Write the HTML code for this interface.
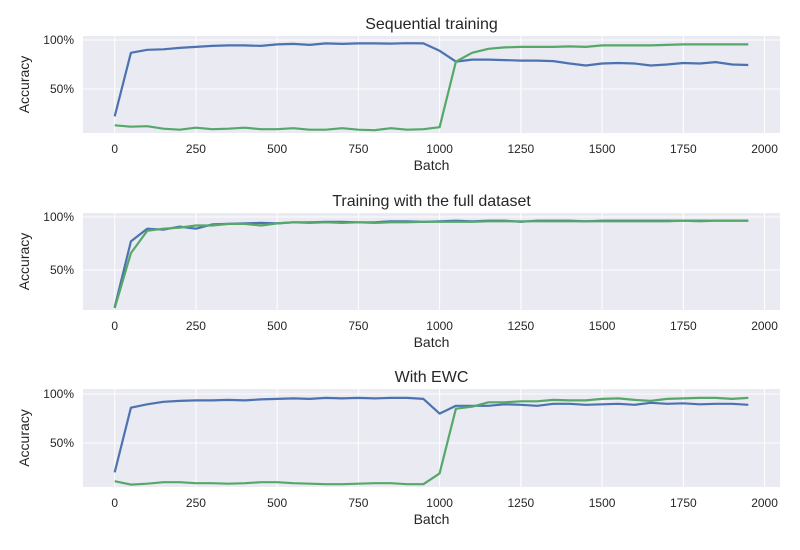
<!DOCTYPE html>
<html><head><meta charset="utf-8"><style>
body{margin:0;background:#fff}
svg{display:block;font-family:"Liberation Sans",Arial,sans-serif}
</style></head><body>
<svg id="chart" width="800" height="550" xmlns="http://www.w3.org/2000/svg"></svg>
<script>
const batches=[0,50,100,150,200,250,300,350,400,450,500,550,600,650,700,750,800,850,900,950,1000,1050,1100,1150,1200,1250,1300,1350,1400,1450,1500,1550,1600,1650,1700,1750,1800,1850,1900,1950];
const xTicks=[0,250,500,750,1000,1250,1500,1750,2000];
const yTicks=[50,100];
const titles=["Sequential training","Training with the full dataset","With EWC"];
const seqTaskA=[22,87,90,90.5,92,93,94,94.5,94.5,94,95.5,96,95,96.5,96,96.5,96.5,96.3,96.8,96.5,89,78,80,80,79.5,79,79,78.5,76,74,76,76.5,76,74,75,76.5,76,77.5,75,74.5];
const seqTaskB=[13,11.5,12,9.5,8.5,10.5,9,9.5,10.5,9,9,10,8.5,8.5,10,8.5,8,10,8.5,9,11,78,87,91,92.5,93,93,93,93.5,93,94.5,94.5,94.5,94.5,95,95.5,95.5,95.5,95.5,95.5];
const fullTaskA=[15,77,89,88,91,89,93,93.5,94,94.5,94,95,95,95.5,95.5,95,95,96,96,95.5,96,96.5,96,96.5,96.5,95.5,96.5,96.5,96.5,96,96.5,96.5,96.5,96.5,96.5,96.5,96.5,96.5,96.5,96.5];
const fullTaskB=[14,66,87,89,90,92,92,93.5,93.5,92,94,95,94.5,95,94.5,95,94.5,95,95,95.5,95.5,95.5,95.5,96,96,96,96,96,96,96,96,96,96,96,96,96.5,96,96.5,96.5,96.5];
const ewcTaskA=[20,86,89.5,92,93,93.5,93.5,94,93.5,94.5,95,95.5,95,96,95.5,96,95.5,96,96,95,80,88,88,88,89.5,89,88,90,90,89,89.5,90,89,91,90,90.5,89.5,90,90,89];
const ewcTaskB=[11,7.5,8.5,10,10,9,9,8.5,9,10,10,9,8.5,8,8,8.5,9,9,8,8,19,85,87,91.5,91.5,92.5,92.5,94,93.5,93.5,95,95.5,94,93,95,95.5,96,96,95,96];

const NS="http://www.w3.org/2000/svg";
const svg=document.getElementById('chart');
function mk(tag,attrs,parent){const e=document.createElementNS(NS,tag);for(const k in attrs)e.setAttribute(k,attrs[k]);(parent||svg).appendChild(e);return e;}
const X0=83,X1=780,XMIN=-97.5,XMAX=2047.5;
function xs(v){return X0+(v-XMIN)/(XMAX-XMIN)*(X1-X0);}
const panels=[
 {top:36,bot:133,ymin:5.1,ymax:104.1,a:seqTaskA,b:seqTaskB},
 {top:213,bot:310,ymin:12.3,ymax:103.8,a:fullTaskA,b:fullTaskB},
 {top:389,bot:487,ymin:5.1,ymax:105.1,a:ewcTaskA,b:ewcTaskB}
];
panels.forEach((p,i)=>{
 const g=mk('g',{});
 
 
 const ys=v=>p.bot-(v-p.ymin)/(p.ymax-p.ymin)*(p.bot-p.top);
 const bg=mk('rect',{x:X0,y:p.top,width:X1-X0,height:p.bot-p.top,fill:'#EAEAF2'},g);
 
 
 xTicks.forEach(t=>{
  mk('line',{x1:xs(t),x2:xs(t),y1:p.top,y2:p.bot,stroke:'#fff','stroke-width':1},g);
  const tl=mk('text',{x:xs(t),y:p.bot+20,'text-anchor':'middle','font-size':12,fill:'#262626'},g);
  tl.textContent=t;
  
  
 });
 yTicks.forEach(t=>{
  mk('line',{x1:X0,x2:X1,y1:ys(t),y2:ys(t),stroke:'#fff','stroke-width':1},g);
  const tl=mk('text',{x:X0-9,y:ys(t)+4,'text-anchor':'end','font-size':12,fill:'#262626'},g);
  tl.textContent=t+'%';
  
  
 });
 [[p.a,'#4C72B0','series-task-a'],[p.b,'#55A868','series-task-b']].forEach(([d,c,n])=>{
  const pts=d.map((v,j)=>xs(batches[j]).toFixed(1)+','+ys(v).toFixed(1)).join(' ');
  const pl=mk('polyline',{points:pts,fill:'none',stroke:c,'stroke-width':2.2,'stroke-linejoin':'round'},g);
  
  
 });
 const tt=mk('text',{x:(X0+X1)/2,y:p.top-7,'text-anchor':'middle','font-size':16,fill:'#262626'},g);
 tt.textContent=titles[i];
 
 
 const xl=mk('text',{x:(X0+X1)/2,y:p.bot+37,'text-anchor':'middle','font-size':14,fill:'#262626'},g);
 xl.textContent='Batch';
 
 
 const cy=(p.top+p.bot)/2;
 const yl=mk('text',{x:29,y:cy,'text-anchor':'middle','font-size':14,fill:'#262626',transform:'rotate(-90 29 '+cy+')'},g);
 yl.textContent='Accuracy';
 
 
});
</script>
</body></html>
